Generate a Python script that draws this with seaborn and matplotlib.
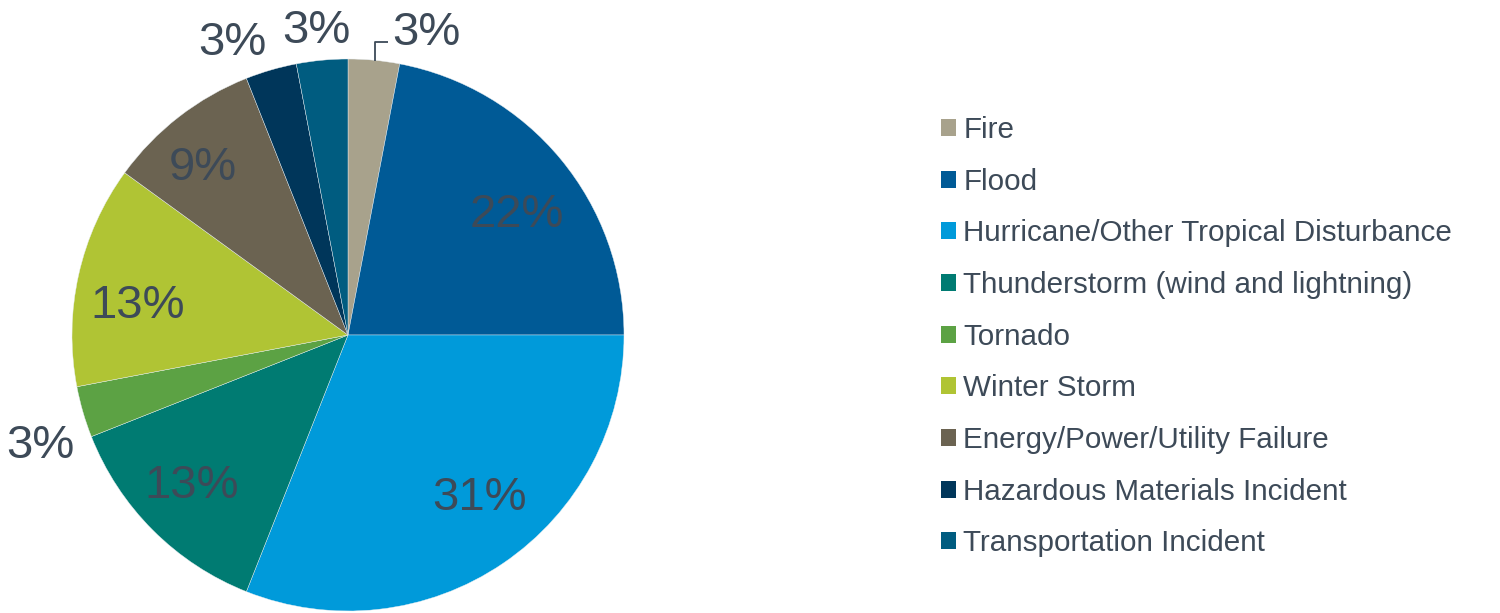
import matplotlib
matplotlib.use("Agg")
import matplotlib.pyplot as plt
from matplotlib.patches import Patch
import seaborn as sns

# Share of incidents by hazard type (percent)
categories = [
    "Fire",
    "Flood",
    "Hurricane/Other Tropical Disturbance",
    "Thunderstorm (wind and lightning)",
    "Tornado",
    "Winter Storm",
    "Energy/Power/Utility Failure",
    "Hazardous Materials Incident",
    "Transportation Incident",
]
shares = [3, 22, 31, 13, 3, 13, 9, 3, 3]
colors = [
    "#A8A28C", "#005A96", "#009ADA", "#007B72", "#5CA244",
    "#B0C434", "#6B6351", "#00365A", "#005C80",
]

# Label anchor points in pie-radius units (x, y)
label_xy = [
    (0.160, 1.095),
    (0.612, 0.434),
    (0.478, -0.592),
    (-0.565, -0.548),
    (-1.116, -0.403),
    (-0.764, 0.104),
    (-0.525, 0.604),
    (-0.420, 1.057),
    (-0.116, 1.100),
]

sns.set_theme(style="white")
plt.rcParams["font.family"] = ["Liberation Sans", "DejaVu Sans"]
text_color = "#3D4A58"

fig = plt.figure(figsize=(15, 6.13), dpi=100)
ax = fig.add_axes([72 / 1500, 2 / 613, 552 / 1500, 552 / 613])

wedges, _ = ax.pie(
    shares,
    colors=colors,
    startangle=90,
    counterclock=False,
    radius=1.0,
    wedgeprops=dict(edgecolor="#E8EEF2", linewidth=0.3),
)
ax.set_xlim(-1, 1)
ax.set_ylim(-1, 1)
ax.set_aspect("auto")
ax.axis("off")

for i, (val, (x, y)) in enumerate(zip(shares, label_xy)):
    ha = "left" if i == 0 else "center"
    ax.text(x, y, f"{val}%", ha=ha, va="center", fontsize=34,
            color=text_color, clip_on=False)

# Leader line for the small Fire slice
ax.plot([0.098, 0.098, 0.145], [0.993, 1.062, 1.062],
        color=text_color, lw=1.3, clip_on=False, solid_capstyle="butt")

handles = [Patch(facecolor=c, edgecolor="none") for c in colors]
fig.legend(
    handles, categories,
    loc="upper left",
    bbox_to_anchor=(941 / 1500, 1 - 116 / 613),
    frameon=False,
    fontsize=21.3,
    labelcolor=text_color,
    handlelength=0.51,
    handleheight=0.51,
    handletextpad=0.24,
    labelspacing=0.80,
    borderpad=0,
    borderaxespad=0,
)

fig.savefig("out.png", dpi=100, facecolor="white")
